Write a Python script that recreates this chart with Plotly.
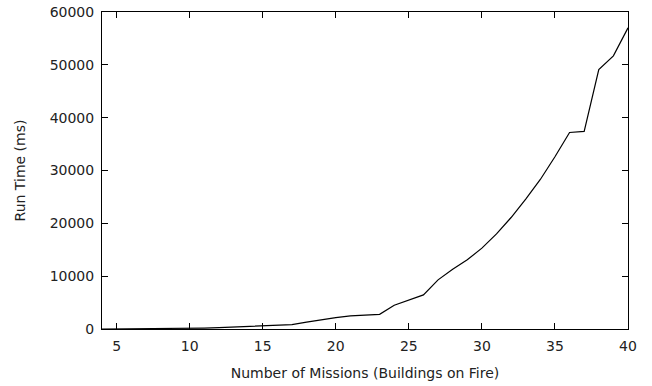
import plotly.graph_objects as go

missions = list(range(4, 41))
run_time_ms = [0, 10, 20, 30, 50, 80, 120, 180, 260, 360, 480, 620, 760, 820,
               1300, 1750, 2150, 2500, 2650, 2780, 4500, 5500, 6450, 9300,
               11300, 13100, 15300, 18000, 21100, 24600, 28300, 32600, 37200,
               37400, 49100, 51700, 57000]

x_title = "Number of Missions (Buildings on Fire)"
y_title = "Run Time (ms)"

fig = go.Figure(go.Scatter(x=missions, y=run_time_ms, mode="lines",
                           line=dict(color="black", width=1.2),
                           showlegend=False, hoverinfo="skip"))

axis_common = dict(showline=True, linecolor="black", linewidth=1, mirror="allticks",
                   ticks="inside", ticklen=6, tickwidth=1, tickcolor="black",
                   showgrid=False, zeroline=False,
                   tickfont=dict(family="DejaVu Sans", size=14, color="#222"),
                   title_font=dict(family="DejaVu Sans", size=14, color="#222"))

fig.update_xaxes(range=[4, 40], tick0=0, dtick=5, tickformat="d",
                 ticklabelstandoff=4,
                 title=dict(text=x_title, standoff=15), **axis_common)
fig.update_yaxes(range=[0, 60000], tick0=0, dtick=10000, tickformat="d",
                 ticklabelstandoff=4,
                 title=dict(text=y_title, standoff=20), **axis_common)

fig.update_layout(width=652, height=386, plot_bgcolor="white", paper_bgcolor="white",
                  margin=dict(l=102, r=24, t=12, b=57, autoexpand=False))

fig.write_html("out.html", config={"displayModeBar": False},
               post_script="document.body.style.margin='0';")
